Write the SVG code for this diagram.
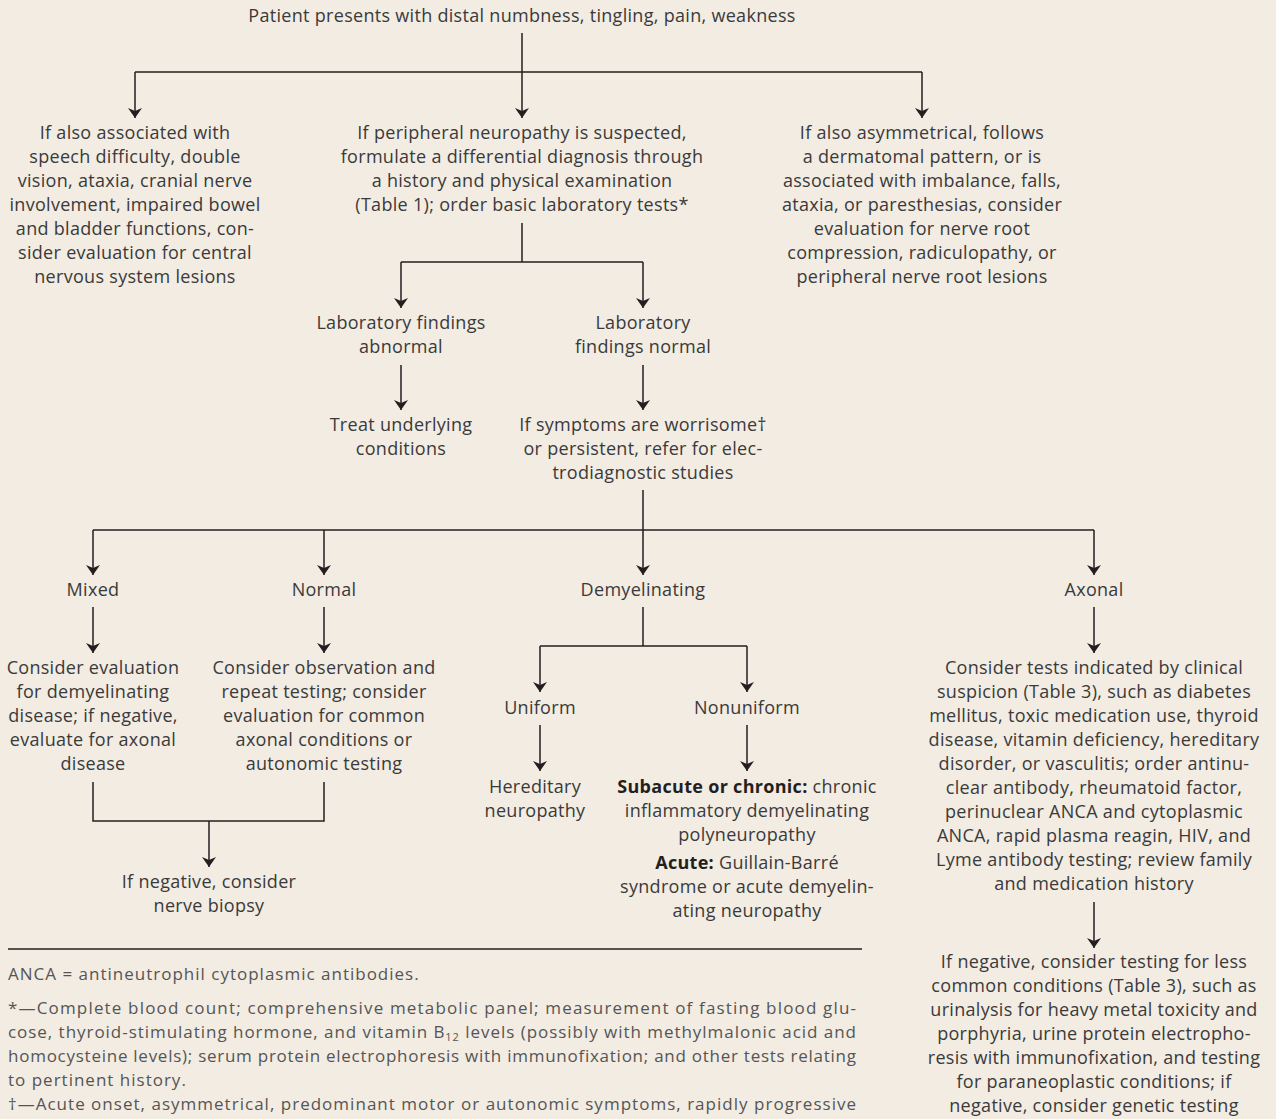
<svg xmlns="http://www.w3.org/2000/svg" width="1276" height="1119" viewBox="0 0 1276 1119">
<defs>
<marker id="ah" viewBox="0 0 10 14" refX="10" refY="7" markerWidth="10" markerHeight="14" markerUnits="userSpaceOnUse" orient="auto">
<path d="M0,0 L10,7 L0,14 L3,7 Z" fill="#231f20"/>
</marker>
<style>
.t{font-family:"Open Sans",Lato,"Liberation Sans",sans-serif;font-size:18px;letter-spacing:0.3px;fill:#3a3a3a;text-anchor:middle}
.b{font-weight:bold;fill:#231f20}
.c{fill:none;stroke:#231f20;stroke-width:1.5}
.a{fill:none;stroke:#231f20;stroke-width:1.5;marker-end:url(#ah)}
.f{font-family:"Open Sans",Lato,"Liberation Sans",sans-serif;font-size:17px;letter-spacing:1px;fill:#555}
</style>
</defs>
<rect width="1276" height="1119" fill="#f2ece3"/>
<g id="connectors">
<path class="c" d="M522,33 V72 M135,72 H922"/>
<path class="a" d="M522,72 V118"/>
<path class="a" d="M135,72 V118"/>
<path class="a" d="M922,72 V118"/>
<path class="c" d="M522,223 V262 M401,262 H643"/>
<path class="a" d="M401,262 V308"/>
<path class="a" d="M643,262 V308"/>
<path class="a" d="M401,365 V410"/>
<path class="a" d="M643,365 V410"/>
<path class="c" d="M643,490 V530 M93,530 H1094"/>
<path class="a" d="M93,530 V575"/>
<path class="a" d="M324,530 V575"/>
<path class="a" d="M643,530 V575"/>
<path class="a" d="M1094,530 V575"/>
<path class="a" d="M93,607 V653"/>
<path class="a" d="M324,607 V653"/>
<path class="a" d="M1094,607 V653"/>
<path class="c" d="M643,607 V646 M540,646 H747"/>
<path class="a" d="M540,646 V692"/>
<path class="a" d="M747,646 V692"/>
<path class="a" d="M540,725 V771"/>
<path class="a" d="M747,725 V771"/>
<path class="c" d="M93,782 V821 H324 V782"/>
<path class="a" d="M209,821 V867"/>
<path class="a" d="M1094,902 V948"/>
</g>
<g id="n-start"><text class="t" x="522" y="22">Patient presents with distal numbness, tingling, pain, weakness</text></g>
<g id="n-cns"><text class="t" x="135" y="139">If also associated with<tspan x="135" dy="24">speech difficulty, double</tspan><tspan x="135" dy="24">vision, ataxia, cranial nerve</tspan><tspan x="135" dy="24">involvement, impaired bowel</tspan><tspan x="135" dy="24">and bladder functions, con-</tspan><tspan x="135" dy="24">sider evaluation for central</tspan><tspan x="135" dy="24">nervous system lesions</tspan></text></g>
<g id="n-pn"><text class="t" x="522" y="139">If peripheral neuropathy is suspected,<tspan x="522" dy="24">formulate a differential diagnosis through</tspan><tspan x="522" dy="24">a history and physical examination</tspan><tspan x="522" dy="24">(Table 1); order basic laboratory tests*</tspan></text></g>
<g id="n-root"><text class="t" x="922" y="139">If also asymmetrical, follows<tspan x="922" dy="24">a dermatomal pattern, or is</tspan><tspan x="922" dy="24">associated with imbalance, falls,</tspan><tspan x="922" dy="24">ataxia, or paresthesias, consider</tspan><tspan x="922" dy="24">evaluation for nerve root</tspan><tspan x="922" dy="24">compression, radiculopathy, or</tspan><tspan x="922" dy="24">peripheral nerve root lesions</tspan></text></g>
<g id="n-labab"><text class="t" x="401" y="329">Laboratory findings<tspan x="401" dy="24">abnormal</tspan></text></g>
<g id="n-labnorm"><text class="t" x="643" y="329">Laboratory<tspan x="643" dy="24">findings normal</tspan></text></g>
<g id="n-treat"><text class="t" x="401" y="431">Treat underlying<tspan x="401" dy="24">conditions</tspan></text></g>
<g id="n-edx"><text class="t" x="643" y="431">If symptoms are worrisome†<tspan x="643" dy="24">or persistent, refer for elec-</tspan><tspan x="643" dy="24">trodiagnostic studies</tspan></text></g>
<g id="n-mixed"><text class="t" x="93" y="596">Mixed</text></g>
<g id="n-normal"><text class="t" x="324" y="596">Normal</text></g>
<g id="n-demy"><text class="t" x="643" y="596">Demyelinating</text></g>
<g id="n-axonal"><text class="t" x="1094" y="596">Axonal</text></g>
<g id="n-mixed2"><text class="t" x="93" y="674">Consider evaluation<tspan x="93" dy="24">for demyelinating</tspan><tspan x="93" dy="24">disease; if negative,</tspan><tspan x="93" dy="24">evaluate for axonal</tspan><tspan x="93" dy="24">disease</tspan></text></g>
<g id="n-normal2"><text class="t" x="324" y="674">Consider observation and<tspan x="324" dy="24">repeat testing; consider</tspan><tspan x="324" dy="24">evaluation for common</tspan><tspan x="324" dy="24">axonal conditions or</tspan><tspan x="324" dy="24">autonomic testing</tspan></text></g>
<g id="n-biopsy"><text class="t" x="209" y="888">If negative, consider<tspan x="209" dy="24">nerve biopsy</tspan></text></g>
<g id="n-uniform"><text class="t" x="540" y="714">Uniform</text></g>
<g id="n-nonuniform"><text class="t" x="747" y="714">Nonuniform</text></g>
<g id="n-hered"><text class="t" x="535" y="793">Hereditary<tspan x="535" dy="24">neuropathy</tspan></text></g>
<g id="n-cidp"><text class="t" x="747" y="793"><tspan class="b">Subacute or chronic:</tspan> chronic<tspan x="747" dy="24">inflammatory demyelinating</tspan><tspan x="747" dy="24">polyneuropathy</tspan><tspan x="747" dy="28" class="b">Acute:</tspan> Guillain-Barré<tspan x="747" dy="24">syndrome or acute demyelin-</tspan><tspan x="747" dy="24">ating neuropathy</tspan></text></g>
<g id="n-axtests"><text class="t" x="1094" y="674">Consider tests indicated by clinical<tspan x="1094" dy="24">suspicion (Table 3), such as diabetes</tspan><tspan x="1094" dy="24">mellitus, toxic medication use, thyroid</tspan><tspan x="1094" dy="24">disease, vitamin deficiency, hereditary</tspan><tspan x="1094" dy="24">disorder, or vasculitis; order antinu-</tspan><tspan x="1094" dy="24">clear antibody, rheumatoid factor,</tspan><tspan x="1094" dy="24">perinuclear ANCA and cytoplasmic</tspan><tspan x="1094" dy="24">ANCA, rapid plasma reagin, HIV, and</tspan><tspan x="1094" dy="24">Lyme antibody testing; review family</tspan><tspan x="1094" dy="24">and medication history</tspan></text></g>
<g id="n-lesscommon"><text class="t" x="1094" y="968">If negative, consider testing for less<tspan x="1094" dy="24">common conditions (Table 3), such as</tspan><tspan x="1094" dy="24">urinalysis for heavy metal toxicity and</tspan><tspan x="1094" dy="24">porphyria, urine protein electropho-</tspan><tspan x="1094" dy="24">resis with immunofixation, and testing</tspan><tspan x="1094" dy="24">for paraneoplastic conditions; if</tspan><tspan x="1094" dy="24">negative, consider genetic testing</tspan></text></g>
<g id="footnotes">
<line x1="8" y1="949" x2="862" y2="949" stroke="#231f20" stroke-width="1.5"/>
<text class="f" x="8" y="980">ANCA = antineutrophil cytoplasmic antibodies.</text>
<text class="f" x="8" y="1014" textLength="849" lengthAdjust="spacing">*—Complete blood count; comprehensive metabolic panel; measurement of fasting blood glu-</text>
<text class="f" x="8" y="1038" textLength="849" lengthAdjust="spacing">cose, thyroid-stimulating hormone, and vitamin B<tspan font-size="11" dy="3">12</tspan><tspan dy="-3"> levels (possibly with methylmalonic acid and</tspan></text>
<text class="f" x="8" y="1062" textLength="849" lengthAdjust="spacing">homocysteine levels); serum protein electrophoresis with immunofixation; and other tests relating</text>
<text class="f" x="8" y="1086">to pertinent history.</text>
<text class="f" x="8" y="1110" textLength="849" lengthAdjust="spacing">†—Acute onset, asymmetrical, predominant motor or autonomic symptoms, rapidly progressive</text>
</g>
</svg>
